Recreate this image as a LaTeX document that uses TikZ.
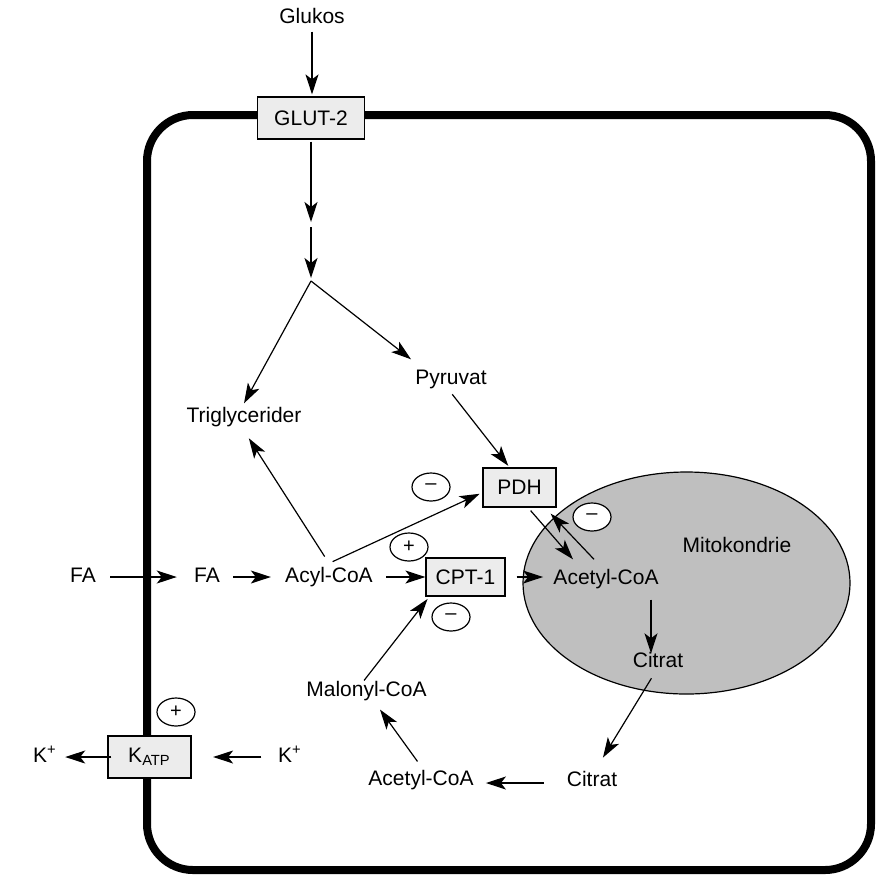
\documentclass[tikz,border=0pt]{standalone}
\usepackage{fontspec}
\setmainfont{Liberation Sans}
\usetikzlibrary{arrows.meta,shapes.geometric}
\begin{document}
\begin{tikzpicture}[x=0.5pt,y=-0.5pt,
  >={Stealth[length=10pt,width=6.5pt,inset=2.5pt]},
  every node/.style={font=\fontsize{10.5}{12}\selectfont},
  lbl/.style={inner sep=2pt,text height=7.2pt,text depth=2.1pt},
  enz/.style={draw,fill=gray!15,line width=0.6pt,inner sep=0pt},
  sgn/.style={draw,fill=white,ellipse,line width=0.6pt,minimum width=19pt,
    minimum height=14pt,inner sep=0pt,font=\fontsize{10}{11}\selectfont},
  flow/.style={->,line width=0.6pt}]
  \useasboundingbox (0,0) rectangle (877,874);
  \draw[line width=4pt,rounded corners=23pt] (147,115) rectangle (871,870);
  \draw[fill=gray!50,line width=0.6pt] (686.5,583) ellipse [x radius=163.5,y radius=111];

  \node[lbl] (gluk) at (312,18) {Glukos};
  \node[enz,minimum width=53.5pt,minimum height=21pt] (glut) at (311,118) {GLUT-2};
  \coordinate (g1) at (311,224.5);
  \coordinate (split) at (311,281);
  \node[lbl] (trig) at (244,417) {Triglycerider};
  \node[lbl] (pyr) at (451,379) {Pyruvat};
  \node[enz,minimum width=36.5pt,minimum height=19.5pt] (pdh) at (519.5,487.5) {PDH};
  \node[lbl] (fa1) at (83,577) {FA};
  \node[lbl] (fa2) at (207,577) {FA};
  \node[lbl] (acyl) at (329,577) {Acyl-CoA};
  \node[enz,minimum width=39.5pt,minimum height=19pt] (cpt) at (465.5,577) {CPT-1};
  \node[lbl] (acmit) at (606,579) {Acetyl-CoA};
  \node[lbl] (mito) at (737,547) {Mitokondrie};
  \node[lbl] (citmit) at (658,662) {Citrat};
  \node[lbl] (cit) at (592,781) {Citrat};
  \node[lbl] (accyt) at (421,780) {Acetyl-CoA};
  \node[lbl] (mal) at (366.5,691) {Malonyl-CoA};
  \node[enz,minimum width=41.5pt,minimum height=21pt] (katp) at (149.5,757) {K\textsubscript{ATP}};
  \node[lbl] (kout) at (45,757) {K\textsuperscript{+}};
  \node[lbl] (kin) at (290,757) {K\textsuperscript{+}};

  \node[sgn] (s1) at (431,487) {–};
  \node[sgn] (s2) at (409,547) {+};
  \node[sgn] (s3) at (451,617) {–};
  \node[sgn] (s4) at (592,517) {–};
  \node[sgn] (s5) at (176,712) {+};

  \draw[flow,shorten >=1pt] (gluk) -- (gluk |- glut.north);
  \draw[flow,shorten <=1pt,shorten >=1.25pt] (glut) -- (g1);
  \draw[flow,shorten <=1.25pt,shorten >=1.5pt] (g1) -- (split);
  \draw[flow] (split) -- (trig.north);
  \draw[flow] (split) -- ([yshift=3pt]pyr.north west);
  \draw[flow,shorten <=1pt,shorten >=1pt] (pyr.south) -- ([xshift=-5pt]pdh.north);
  \draw[flow,shorten <=4pt,shorten >=4.5pt] (acyl.north) -- (trig.south);
  \draw[flow,shorten <=2pt,shorten >=1.5pt] (acyl.north) -- ([yshift=-2.5pt]pdh.west);
  \draw[flow,shorten <=5pt,shorten >=6.5pt] (fa1) -- (fa2);
  \draw[flow,shorten <=4.5pt,shorten >=5pt] (fa2) -- (acyl);
  \draw[flow,shorten <=4.5pt] (acyl) -- (cpt);
  \draw[flow,shorten <=5.5pt,shorten >=3pt] (cpt.east) -- (cpt.east -| acmit.west);
  \draw[flow,shorten <=2pt] ([xshift=4.25pt]pdh.south) -- ([xshift=-16.5pt,yshift=3pt]acmit.north);
  \draw[flow] ([xshift=-6pt,yshift=3pt]acmit.north) -- ([xshift=-3pt,yshift=-3pt]pdh.south east);
  \draw[flow,shorten <=3.5pt,shorten >=-2.5pt] ([xshift=-3.5pt]citmit.north |- acmit.south) -- ([xshift=-3.5pt]citmit.north);
  \draw[flow,shorten <=1.5pt,shorten >=5.7pt] ([xshift=-2.5pt]citmit.south) -- ([xshift=2.5pt]cit.north);
  \draw[flow,shorten <=9.5pt,shorten >=4pt] ([yshift=-1pt]cit.west) -- ([yshift=-1pt]cit.west -| accyt.east);
  \draw[flow,shorten <=3pt,shorten >=3pt] (accyt.north) -- ([xshift=5pt]mal.south);
  \draw[flow,shorten <=-2pt,shorten >=1.5pt] (mal.north) -- ([xshift=2pt]cpt.south west);
  \draw[flow,shorten <=-2pt,shorten >=2pt] (katp.west) -- (kout.east);
  \draw[flow,shorten <=6.25pt,shorten >=10.75pt] (kin.west) -- (katp.east);
\end{tikzpicture}
\end{document}
